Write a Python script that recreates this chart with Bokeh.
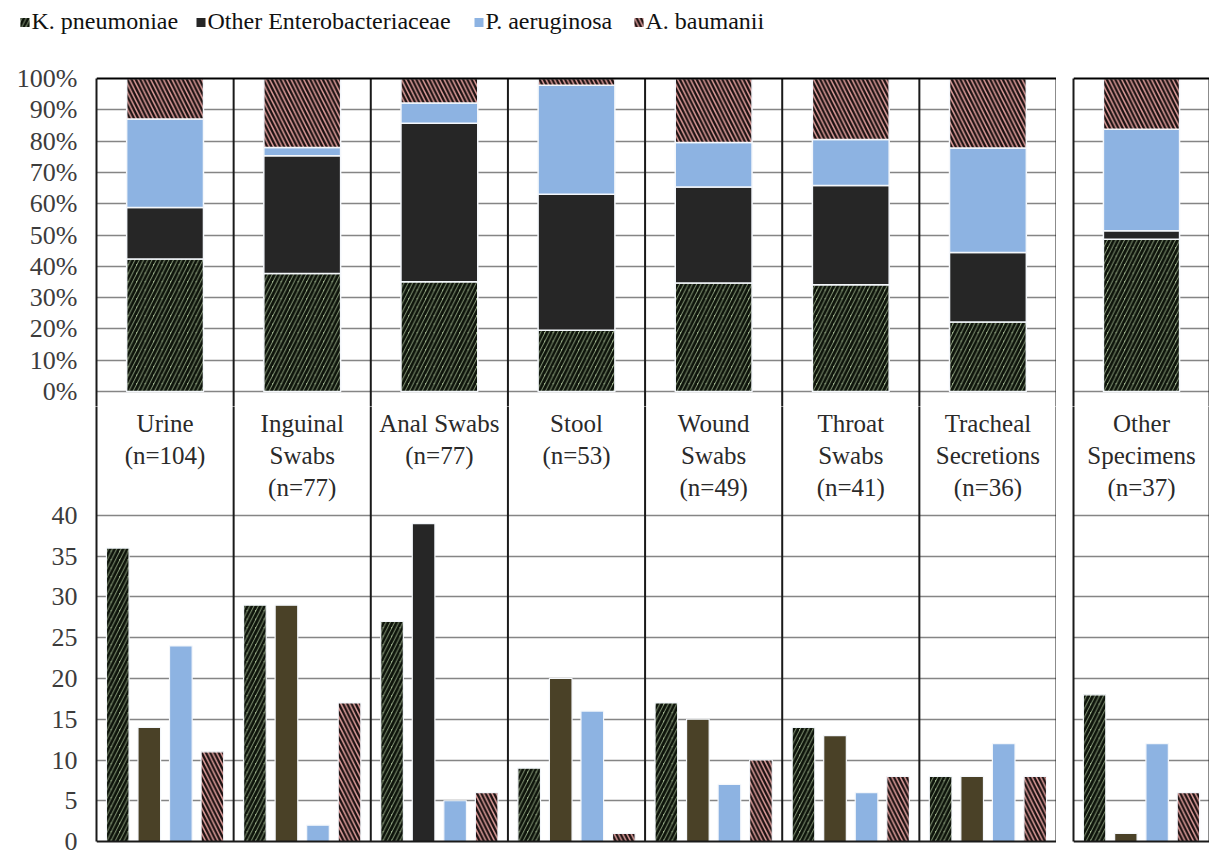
from bokeh.plotting import figure
from bokeh.layouts import column, row
from bokeh.models import (ColumnDataSource, FactorRange, Range1d, FixedTicker,
                          PrintfTickFormatter, Span)
from bokeh.transform import dodge
from bokeh.core.properties import value
from bokeh.embed import file_html
from bokeh.resources import INLINE

# ---------------- data ----------------
specimens = ["Urine", "Inguinal Swabs", "Anal Swabs", "Stool", "Wound Swabs",
             "Throat Swabs", "Tracheal Secretions", "Other Specimens"]
specimen_lines = [["Urine"], ["Inguinal", "Swabs"], ["Anal Swabs"], ["Stool"],
                  ["Wound", "Swabs"], ["Throat", "Swabs"], ["Tracheal", "Secretions"],
                  ["Other", "Specimens"]]
n_isolates = [104, 77, 77, 53, 49, 41, 36, 37]

organisms = ["K. pneumoniae", "Other Enterobacteriaceae", "P. aeruginosa", "A. baumanii"]
k_pneumoniae = [36, 29, 27, 9, 17, 14, 8, 18]
other_entero = [14, 29, 39, 20, 15, 13, 8, 1]
p_aeruginosa = [24, 2, 5, 16, 7, 6, 12, 12]
a_baumanii = [11, 17, 6, 1, 10, 8, 8, 6]
counts = [k_pneumoniae, other_entero, p_aeruginosa, a_baumanii]

pct_ticks = [0, 10, 20, 30, 40, 50, 60, 70, 80, 90, 100]
count_ticks = [0, 5, 10, 15, 20, 25, 30, 35, 40]

# ---------------- styles ----------------
FONT = "Liberation Serif"
OLIVE = "#4a4127"
NEAR_BLACK = "#262626"
STYLE = {
    "K. pneumoniae": dict(fill_color="#9db28d", hatch_pattern="/", hatch_color="#0e140b",
                          hatch_weight=3.0, hatch_scale=8.5),
    "Other Enterobacteriaceae": dict(fill_color=NEAR_BLACK),
    "P. aeruginosa": dict(fill_color="#8db3e2"),
    "A. baumanii": dict(fill_color="#dc9b99", hatch_pattern="\\", hatch_color="#1c1212",
                        hatch_weight=2.3, hatch_scale=8.5),
}
GRID = "#858585"
TICK_FONT_SIZE = "26px"

# shares of each organism within a specimen type (top panel)
totals = [sum(c[i] for c in counts) for i in range(len(specimens))]
shares = {org: [100.0 * c[i] / totals[i] for i in range(len(specimens))]
          for org, c in zip(organisms, counts)}

main = specimens[:7]
extra = specimens[7:]

TOP_RANGE = (-4.79, 100.96)       # percent scale of the upper panel
BOT_RANGE = (-0.368, 53.374)      # count scale of the lower panel (label band on top)
LABEL_Y = [51.29, 47.36, 43.44]   # text rows of the label band, in count units


def style_axis(ax, ticks, bounds):
    ax.ticker = FixedTicker(ticks=ticks)
    ax.bounds = bounds
    ax.axis_line_color = "#1a1a1a"
    ax.axis_line_width = 2
    ax.major_tick_out = 0
    ax.major_tick_in = 0
    ax.minor_tick_out = 0
    ax.minor_tick_in = 0
    ax.major_label_standoff = 19
    ax.major_label_text_font = FONT
    ax.major_label_text_font_size = TICK_FONT_SIZE
    ax.major_label_text_color = "#3c3c3c"


def make_pair(cats, with_axis, width, border_left):
    idx = [specimens.index(c) for c in cats]
    xr = FactorRange(*cats, range_padding=0)

    # ---------- stacked percentage panel ----------
    top = figure(x_range=xr, y_range=Range1d(*TOP_RANGE), width=width, height=346,
                 min_border_left=border_left, min_border_right=0, min_border_top=15,
                 min_border_bottom=0, x_axis_location=None, output_backend="svg",
                 toolbar_location=None)
    top.outline_line_color = None
    top.xgrid.visible = False
    top.ygrid.ticker = FixedTicker(ticks=pct_ticks[:-1])
    top.ygrid.grid_line_color = GRID
    top.ygrid.grid_line_width = 1.6

    src = ColumnDataSource(dict(spec=cats, **{org: [shares[org][i] for i in idx] for org in organisms}))
    top.vbar_stack(organisms, x="spec", width=0.56, source=src,
                   fill_color=[STYLE[o]["fill_color"] for o in organisms],
                   hatch_pattern=[STYLE[o].get("hatch_pattern") for o in organisms],
                   hatch_color=[STYLE[o].get("hatch_color", "black") for o in organisms],
                   hatch_weight=[STYLE[o].get("hatch_weight", 1) for o in organisms],
                   hatch_scale=[STYLE[o].get("hatch_scale", 12) for o in organisms],
                   line_color="#f4f7fb", line_width=1.5)

    top.add_layout(Span(location=100, dimension="width", line_color="black", line_width=2))

    # ---------- label band + counts panel ----------
    bot = figure(x_range=xr, y_range=Range1d(*BOT_RANGE), width=width, height=450,
                 min_border_left=border_left, min_border_right=0, min_border_top=0,
                 min_border_bottom=12, x_axis_location=None, output_backend="svg",
                 toolbar_location=None)
    bot.outline_line_color = None
    bot.xgrid.visible = False
    bot.ygrid.ticker = FixedTicker(ticks=count_ticks[1:])
    bot.ygrid.grid_line_color = GRID
    bot.ygrid.grid_line_width = 1.6

    # category names and sample sizes
    lx, ly, lt = [], [], []
    for i in idx:
        lines = specimen_lines[i] + [f"(n={n_isolates[i]})"]
        for k, t in enumerate(lines):
            lx.append(specimens[i]); ly.append(LABEL_Y[k]); lt.append(t)
    bot.text(x="x", y="y", text="t", source=ColumnDataSource(dict(x=lx, y=ly, t=lt)),
             text_align="center", text_baseline="middle", text_font=value(FONT),
             text_font_size="25px", text_color="#2a2a2a")

    offsets = [-0.345, -0.115, 0.115, 0.345]
    for org, c, off in zip(organisms, counts, offsets):
        st = dict(STYLE[org])
        data = dict(spec=cats, v=[c[i] for i in idx])
        if org == "Other Enterobacteriaceae":
            data["col"] = [NEAR_BLACK if specimens[i] == "Anal Swabs" else OLIVE for i in idx]
            st["fill_color"] = "col"
        bot.vbar(x=dodge("spec", off, range=xr), top="v", width=0.165,
                 source=ColumnDataSource(data), line_color="#f4f7fb", line_width=1.2, **st)

    bot.add_layout(Span(location=0, dimension="width", line_color="#1a1a1a", line_width=2.2))

    # section dividers through both panels
    div = ColumnDataSource(dict(spec=cats))
    for p, y0, y1 in ((top, -10, 100), (bot, 0, 60)):
        p.segment(x0=dodge("spec", 0.5, range=xr), x1=dodge("spec", 0.5, range=xr),
                  y0=y0, y1=y1, source=div, line_color="#1a1a1a", line_width=2)

    style_axis(top.yaxis[0], pct_ticks if with_axis else [], (TOP_RANGE[0], 100))
    style_axis(bot.yaxis[0], count_ticks if with_axis else [], (0, BOT_RANGE[1]))
    if with_axis:
        top.yaxis[0].formatter = PrintfTickFormatter(format="%d%%")
    return top, bot


tl, bl = make_pair(main, True, 1056, 96)
tr, br = make_pair(extra, False, 153, 17)

# ---------------- legend strip ----------------
LEGEND_X = [20, 196, 474, 634]   # left edge of each key, in strip pixels
leg = figure(width=1209, height=60, x_range=Range1d(0, 1209), y_range=Range1d(0, 60),
             min_border=0, output_backend="svg", toolbar_location=None,
             x_axis_location=None, y_axis_location=None)
leg.grid.visible = False
leg.outline_line_color = None
leg_src = ColumnDataSource(dict(org=organisms, kx=[x + 4.5 for x in LEGEND_X],
                                tx=[x + 11 for x in LEGEND_X]))
leg.text(x="tx", y=40, text="org", source=leg_src, text_font=value("Times New Roman"),
         text_font_size="24px", text_baseline="middle", text_align="left",
         text_color="#111111")
for org, x in zip(organisms, LEGEND_X):
    leg.rect(x=[x + 4.5], y=[38], width=9, height=9, line_color=None, **STYLE[org])

layout = column(leg, row(tl, tr, spacing=0), row(bl, br, spacing=0), spacing=0)

open("out.html", "w").write(file_html(layout, INLINE))
